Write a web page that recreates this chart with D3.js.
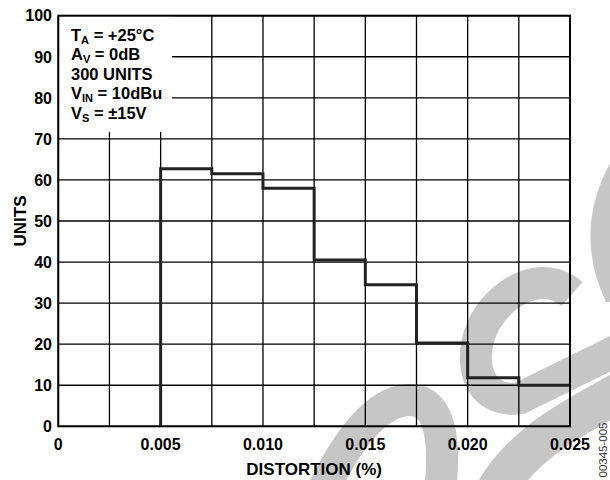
<!DOCTYPE html>
<html>
<head>
<meta charset="utf-8">
<script src="https://cdn.jsdelivr.net/npm/d3@7"></script>
<style>
  html, body { margin: 0; padding: 0; background: #fff; }
  svg { display: block; }
  text { font-family: "Liberation Sans", Arial, Helvetica, sans-serif; font-weight: bold; fill: #000; }
</style>
</head>
<body>
<svg id="chart" width="610" height="480"></svg>
<script>
// ---- data ----
const binEdges = [0.005, 0.0075, 0.010, 0.0125, 0.015, 0.0175, 0.020, 0.0225, 0.025];
const unitCounts = [62.7, 61.5, 58.0, 40.5, 34.5, 20.3, 11.8, 10.0];
const yTicks = [0, 10, 20, 30, 40, 50, 60, 70, 80, 90, 100];
const xTickValues = [0, 0.005, 0.010, 0.015, 0.020, 0.025];
const xTickLabels = ["0", "0.005", "0.010", "0.015", "0.020", "0.025"];
const xGridValues = [0, 0.0025, 0.005, 0.0075, 0.010, 0.0125, 0.015, 0.0175, 0.020, 0.0225, 0.025];
const legendLines = [
  [["T", ""], ["A", "sub"], [" = +25°C", ""]],
  [["A", ""], ["V", "sub"], [" = 0dB", ""]],
  [["300 UNITS", ""]],
  [["V", ""], ["IN", "sub"], [" = 10dBu", ""]],
  [["V", ""], ["S", "sub"], [" = ±15V", ""]]
];
const xTitle = "DISTORTION (%)";
const yTitle = "UNITS";
const figureCode = "00345-005";

// ---- layout ----
const L = 58.3, R = 570, T = 15.7, B = 426.3;
const svg = d3.select("#chart");
const x = d3.scaleLinear().domain([0, 0.025]).range([L, R]);
const y = d3.scaleLinear().domain([0, 100]).range([B, T]);

// watermark (decorative, behind everything)
const wm = svg.append("g").attr("fill", "none").attr("stroke", "#c6c6c6").attr("stroke-width", 32);
wm.append("path").attr("d", "M322,492 C345,445 375,400 410,400 C440,400 446,440 440,492");
wm.append("path").attr("d", "M572,294 C545,270 505,288 485,322 C465,360 478,405 520,398 L618,350");
wm.append("path").attr("stroke-width", 40).attr("d", "M620,392 C580,415 525,440 495,492");
svg.append("path").attr("fill", "#c6c6c6").attr("d", "M612,160 Q572,230 606,302 L612,302 Z");

// grid
const grid = svg.append("g").attr("stroke", "#000").attr("stroke-width", 1.3);
grid.selectAll("line.v").data(xGridValues).join("line")
  .attr("x1", d => x(d)).attr("x2", d => x(d)).attr("y1", T).attr("y2", B);
grid.selectAll("line.h").data(yTicks).join("line")
  .attr("y1", d => y(d)).attr("y2", d => y(d)).attr("x1", L).attr("x2", R);

// legend knockout box
svg.append("rect").attr("x", L).attr("y", T).attr("width", 172 - L).attr("height", 132 - T).attr("fill", "#fff");

// histogram outline
const pts = [[binEdges[0], 0]].concat(unitCounts.map((v, i) => [binEdges[i], v]))
  .concat([[binEdges[binEdges.length - 1], unitCounts[unitCounts.length - 1]]]);
svg.append("path")
  .attr("d", d3.line().x(d => x(d[0])).y(d => y(d[1])).curve(d3.curveStepAfter)(pts))
  .attr("fill", "none").attr("stroke", "#222").attr("stroke-width", 3).attr("stroke-linejoin", "miter");

// frame
svg.append("rect").attr("x", L).attr("y", T).attr("width", R - L).attr("height", B - T)
  .attr("fill", "none").attr("stroke", "#000").attr("stroke-width", 2);

// y tick labels
svg.append("g").selectAll("text").data(yTicks).join("text")
  .attr("x", 52).attr("y", d => y(d)).attr("dy", "0.36em")
  .attr("text-anchor", "end").attr("font-size", 16).text(d => d);

// x tick labels
svg.append("g").selectAll("text").data(xTickValues).join("text")
  .attr("x", d => x(d)).attr("y", 449.5)
  .attr("text-anchor", "middle").attr("font-size", 16).text((d, i) => xTickLabels[i]);

// axis titles
svg.append("text").attr("x", (L + R) / 2).attr("y", 475).attr("text-anchor", "middle")
  .attr("font-size", 17).text(xTitle);
svg.append("text").attr("transform", `translate(26,${(T + B) / 2}) rotate(-90)`)
  .attr("text-anchor", "middle").attr("font-size", 17).text(yTitle);

// legend text
const lg = svg.append("g");
legendLines.forEach((parts, i) => {
  const t = lg.append("text").attr("x", 71).attr("y", 40.5 + i * 19.5).attr("font-size", 16.5);
  parts.forEach(([s, kind]) => {
    if (kind === "sub") {
      t.append("tspan").attr("font-size", 11).attr("dy", 3).text(s);
    } else {
      const ts = t.append("tspan").text(s);
      if (t.node().childNodes.length > 1) ts.attr("dy", -3);
    }
  });
});

// figure code
svg.append("text").attr("transform", "translate(607,450) rotate(-90)")
  .attr("text-anchor", "middle").attr("font-size", 11.5)
  .style("font-weight", "normal").style("fill", "#333").text(figureCode);
</script>
</body>
</html>
